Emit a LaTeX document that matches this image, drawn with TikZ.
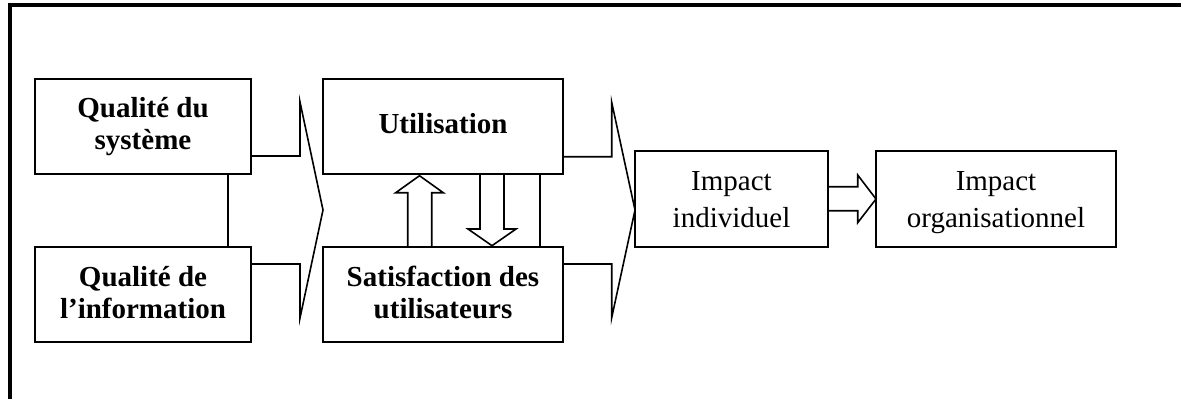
\documentclass[tikz,border=0pt]{standalone}
\usepackage{fontspec}
\setmainfont{Liberation Serif}
\usetikzlibrary{calc}
\tikzset{
  box/.style={draw, line width=1.8pt, rectangle, inner sep=0pt, outer sep=0pt, minimum width=#1, minimum height=95pt},
  lbl/.style={anchor=base, align=center, inner sep=0pt, outer sep=0pt, font=\fontsize{29}{32}\selectfont\bfseries},
  lblr/.style={anchor=base, align=center, inner sep=0pt, outer sep=0pt, font=\fontsize{29}{37}\selectfont},
  conn/.style={line width=1.6pt, line join=miter},
  frame/.style={line width=4pt, line join=miter}
}
\begin{document}
\begin{tikzpicture}[x=1pt, y=-1pt]
\useasboundingbox (0,0) rectangle (1181,399);
% frame
\draw[frame] (10.3,402) -- (10.3,5.3) -- (1185,5.3);
% boxes
\node[box=216pt] (b1) at (143,126.5) {};
\node[box=216pt] (b2) at (143,294.5) {};
\node[box=240pt] (b3) at (443,126.5) {};
\node[box=240pt] (b4) at (443,294.5) {};
\node[box=193pt, minimum height=96pt] (b5) at (731.5,199) {};
\node[box=240pt, minimum height=96pt] (b6) at (996,199) {};
% texts (anchor = baseline of the last line)
\node[lbl] (t1) at (143,149) {Qualité du\\système};
\node[lbl] (t2) at (143,318.3) {Qualité de\\l’information};
\node[lbl] (t3) at (443,133.3) {Utilisation};
\node[lbl] (t4) at (443,318.3) {Satisfaction des\\utilisateurs};
\node[lblr] (t5) at (731.5,227.3) {Impact\\individuel};
\node[lblr] (t6) at (996,227.3) {Impact\\organisationnel};
% tips of the chevrons
\coordinate (c1) at (323,210);
\coordinate (c2) at (635,210);
% line between the two quality boxes
\draw[conn] ($(b1.south west)+(193,0)$) -- ($(b2.north west)+(193,0)$);
% first chevron
\draw[conn] ($(b1.south east)+(0,-18)$) -- (300,156) -- (300,102) -- (c1)
  -- (300,318) -- (300,264) -- ($(b2.north east)+(0,17)$);
% second chevron
\draw[conn] ($(b3.south east)+(0,-17.3)$) -- (611.7,156.7) -- (611.7,102.3) -- (c2)
  -- (611.7,317.7) -- (611.7,264) -- ($(b4.north east)+(0,17)$);
% hollow up arrow (satisfaction -> utilisation)
\draw[conn] ($(b4.north west)+(84.7,0)$) -- (407.7,192.7) -- (395.7,192.7) -- (419.5,175.7)
  -- (443.3,192.7) -- (431.7,192.7) -- ($(b4.north west)+(108.7,0)$);
% hollow down arrow (utilisation -> satisfaction)
\draw[conn] ($(b3.south west)+(157,0)$) -- (480,229) -- (468,229) -- (492,245.7)
  -- (516,229) -- (504,229) -- ($(b3.south west)+(181,0)$);
% vertical line
\draw[conn] ($(b3.south west)+(217,0)$) -- ($(b4.north west)+(217,0)$);
% block arrow impact individuel -> organisationnel
\draw[conn] ($(b5.north east)+(0,35.7)$) -- (857.7,186.7) -- (857.7,175) -- (b6.west)
  -- (857.7,222.7) -- (857.7,210.7) -- ($(b5.north east)+(0,59.7)$);
\end{tikzpicture}
\end{document}
